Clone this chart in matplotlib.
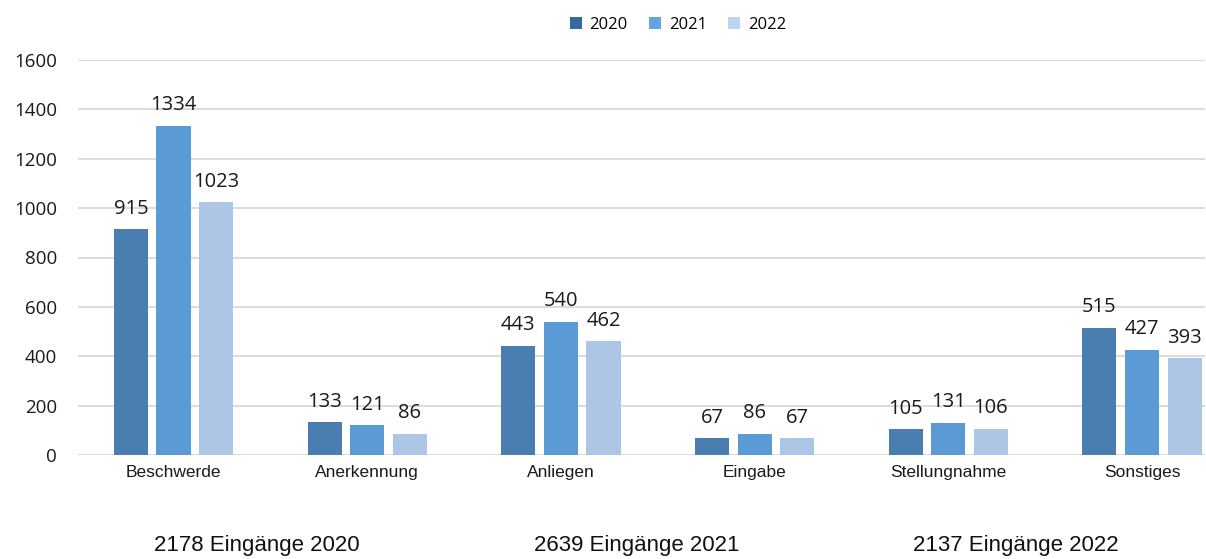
import matplotlib
matplotlib.use("Agg")
import matplotlib.pyplot as plt
from matplotlib.patches import Patch
import numpy as np

categories = ["Beschwerde", "Anerkennung", "Anliegen", "Eingabe", "Stellungnahme", "Sonstiges"]
years = ["2020", "2021", "2022"]
v2020 = [915, 133, 443, 67, 105, 515]
v2021 = [1334, 121, 540, 86, 131, 427]
v2022 = [1023, 86, 462, 67, 106, 393]
totals = ["2178 Eingänge 2020", "2639 Eingänge 2021", "2137 Eingänge 2022"]
colors = ["#4A7EB0", "#5B9BD5", "#ADC6E5"]
legend_colors = ["#336B9E", "#63A5DE", "#BBD5EF"]

plt.rcParams['font.family'] = ['Open Sans', 'DejaVu Sans']

fig = plt.figure(figsize=(12.06, 5.59), dpi=100)
ax = fig.add_axes([78/1206, 104/559, (1205-78)/1206, 395/559])

x = np.arange(len(categories))
w = 0.176
off = 0.22
for i, (vals, c, y) in enumerate(zip([v2020, v2021, v2022], colors, years)):
    bars = ax.bar(x + (i - 1) * off, vals, width=w, color=c, label=y, zorder=3)
    for b, v in zip(bars, vals):
        ax.annotate(str(v), (b.get_x() + b.get_width() / 2, v), xytext=(0, 7.5),
                    textcoords="offset points", ha="center", va="bottom",
                    fontsize=14.5, color="#1a1a1a")

ax.set_xlim(-0.493, 5.325)
ax.set_ylim(0, 1600)
ax.set_yticks(range(0, 1601, 200))
ax.yaxis.grid(True, color="#D9D9D9", linewidth=1.3, zorder=0)
ax.set_axisbelow(True)
for s in ax.spines.values():
    s.set_visible(False)
ax.tick_params(axis="y", length=0, labelsize=13.5, pad=15, labelcolor="#1a1a1a")
ax.tick_params(axis="x", length=0, pad=7, labelcolor="#1a1a1a")
ax.set_xticks(x)
ax.set_xticklabels(categories, fontsize=12.5, family=["Liberation Sans", "DejaVu Sans"])

handles = [Patch(facecolor=c, label=y) for c, y in zip(legend_colors, years)]
fig.legend(handles=handles, loc="center", bbox_to_anchor=(678/1206, 1 - 25/559), ncol=3,
           frameon=False, fontsize=12, handlelength=0.72, handleheight=0.72,
           columnspacing=1.3, handletextpad=0.45)

for t, xp in zip(totals, [257, 637, 1016]):
    fig.text(xp / 1206, 1 - 545/559, t, ha="center", va="center", fontsize=16,
             family=["Liberation Sans", "DejaVu Sans"], color="#111111")

fig.savefig("out.png", dpi=100)
